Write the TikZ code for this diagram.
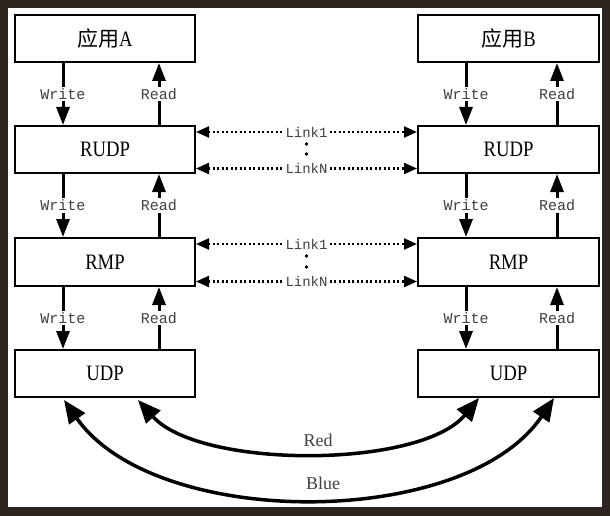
\documentclass[tikz,border=0pt]{standalone}
\usepackage{fontspec}
\setmainfont{Liberation Serif}
\setmonofont{Liberation Mono}
\newfontfamily\cjk{Noto Sans CJK SC}
\usetikzlibrary{arrows.meta,calc}
\definecolor{framec}{HTML}{2E2420}
\newcommand\bxt[1]{\scalebox{0.85}[1]{#1}}
\begin{document}
\begin{tikzpicture}[x=1pt,y=-1pt,
 layer/.style={draw=black,line width=2pt,minimum width=180pt,minimum height=47pt,inner sep=0pt,fill=white,font=\fontsize{22}{22}\selectfont},
 flow/.style={line width=3pt,-{Triangle[width=13pt,length=18pt]}},
 lbl/.style={fill=white,inner sep=1.5pt,text=black!75,font=\ttfamily\fontsize{15}{15}\selectfont},
 lnklbl/.style={fill=white,inner sep=1pt,text=black!75,font=\ttfamily\fontsize{14}{14}\selectfont},
 link/.style={line width=2.2pt,dash pattern=on 2pt off 2.5pt,{Triangle[width=11pt,length=13pt]}-{Triangle[width=11pt,length=13pt]}},
 curve/.style={line width=3.5pt,{Triangle[width=19pt,length=23pt]}-{Triangle[width=19pt,length=23pt]}},
 clbl/.style={text=black!75,font=\fontsize{18}{18}\selectfont}]
\fill[framec] (0,0) rectangle (610,516);
\fill[white] (8,8) rectangle (602,507);
\useasboundingbox (0,0) rectangle (610,516);

% left stack
\node[layer] (appA) at (105,38.5) {{\cjk\fontsize{21}{21}\selectfont 应用}\bxt{A}};
\node[layer] (rudpA) at (105,149.5) {\bxt{RUDP}};
\node[layer,minimum height=48pt] (rmpA) at (105,262) {\bxt{RMP}};
\node[layer] (udpA) at (105,373.5) {\bxt{UDP}};
% right stack
\node[layer,minimum width=181pt] (appB) at (508.5,38.5) {{\cjk\fontsize{21}{21}\selectfont 应用}\bxt{B}};
\node[layer,minimum width=181pt] (rudpB) at (508.5,149.5) {\bxt{RUDP}};
\node[layer,minimum width=181pt,minimum height=48pt] (rmpB) at (508.5,262) {\bxt{RMP}};
\node[layer,minimum width=181pt] (udpB) at (508.5,373.5) {\bxt{UDP}};

% vertical write/read, left
\foreach \up/\dn in {appA/rudpA,rudpA/rmpA,rmpA/udpA}{
  \draw[flow] ($(\up.south west)+(49,0)$) -- node[lbl]{Write} ($(\dn.north west)+(49,0)$);
  \draw[flow] ($(\dn.north west)+(145,0)$) -- node[lbl]{Read} ($(\up.south west)+(145,0)$);
}
% vertical write/read, right
\foreach \up/\dn in {appB/rudpB,rudpB/rmpB,rmpB/udpB}{
  \draw[flow] ($(\up.south west)+(49,0)$) -- node[lbl]{Write} ($(\dn.north west)+(49,0)$);
  \draw[flow] ($(\dn.north west)+(140,0)$) -- node[lbl]{Read} ($(\up.south west)+(140,0)$);
}

% links
\foreach \a/\b in {rudpA/rudpB,rmpA/rmpB}{
  \draw[link] ($(\a.north east)+(0,7)$) -- node[lnklbl]{Link1} ($(\b.north west)+(0,7)$);
  \draw[link] ($(\a.south east)+(0,-5.5)$) -- node[lnklbl]{LinkN} ($(\b.south west)+(0,-5.5)$);
}
\node[circle,fill=black,inner sep=0pt,minimum size=3.8pt] (d1) at (306.5,144) {};
\node[circle,fill=black,inner sep=0pt,minimum size=3.8pt] (d2) at (306.5,154) {};
\node[circle,fill=black,inner sep=0pt,minimum size=3.8pt] (d3) at (306.5,256) {};
\node[circle,fill=black,inner sep=0pt,minimum size=3.8pt] (d4) at (306.5,267) {};

% bottom curves
\draw[curve] ($(udpA.south west)+(124,2)$) .. controls (200,469) and (420,469) .. ($(udpB.south west)+(62,0)$);
\node[clbl] (red) at (318,440) {Red};
\draw[curve] ($(udpA.south west)+(50,2)$) .. controls (155,530) and (465,530) .. ($(udpB.south west)+(137,0)$);
\node[clbl] (blue) at (323,483) {Blue};
\end{tikzpicture}
\end{document}
